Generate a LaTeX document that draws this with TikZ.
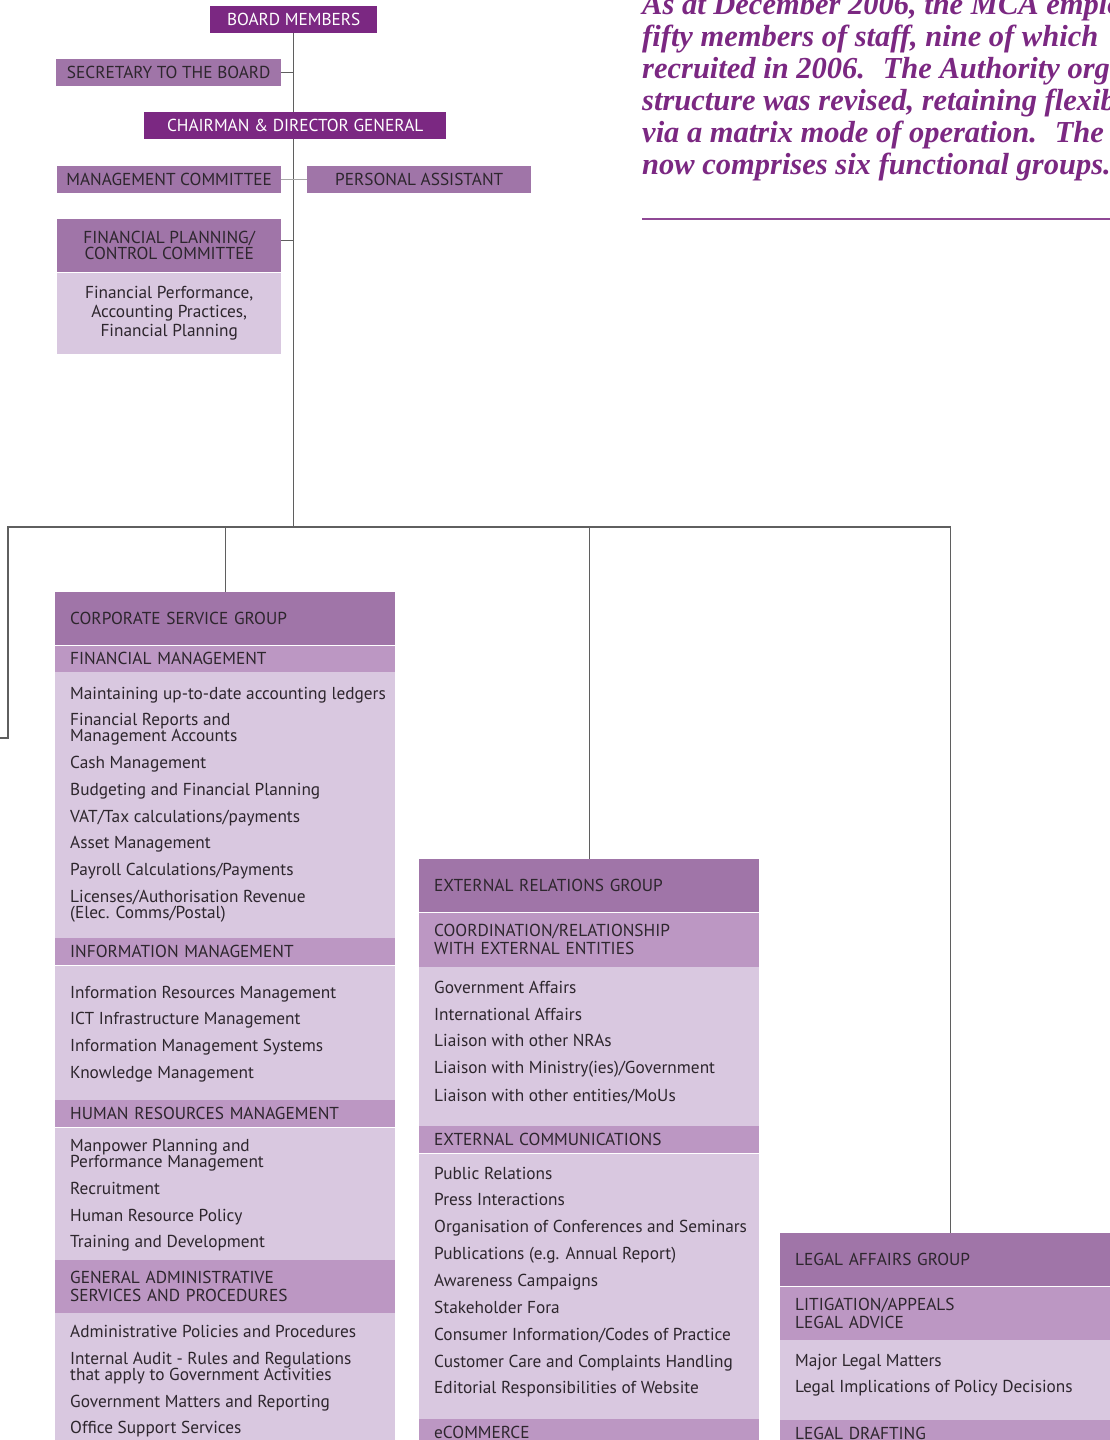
\documentclass[tikz,border=0pt]{standalone}
\usepackage{fontspec}
\newfontfamily\orgfont{PT Sans}
\newfontfamily\notefont{Liberation Serif}
\usetikzlibrary{backgrounds}

\definecolor{mcadark}{RGB}{123,40,130}
\definecolor{mcamid}{RGB}{160,117,168}
\definecolor{mcasub}{RGB}{188,151,195}
\definecolor{mcalight}{RGB}{217,200,224}
\definecolor{mcatext}{RGB}{45,38,45}
\definecolor{mcaline}{RGB}{95,95,95}

\newcommand{\itemlist}[3]{\parbox[t][#1][t]{340pt}{\raggedright\leftskip=15pt\vspace*{#2}#3}}

\begin{document}
\begin{tikzpicture}[x=1pt, y=-1pt, font=\orgfont\fontsize{17.3}{16}\selectfont,
    darkbox/.style={fill=mcadark, text=white, inner sep=0pt, minimum height=27pt, anchor=north west},
    midbox/.style={fill=mcamid, text=mcatext, inner sep=0pt, minimum height=27pt, anchor=north west},
    grouphead/.style={fill=mcamid, text=mcatext, anchor=north west, inner xsep=15pt, inner ysep=0pt,
        text width=310pt, align=left, minimum height=53pt, font=\orgfont\fontsize{17.3}{18}\selectfont},
    subhead/.style={grouphead, fill=mcasub, minimum height=27pt},
    listbody/.style={fill=mcalight, text=mcatext, anchor=north west, inner sep=0pt},
    conn/.style={draw=mcaline, line width=1.2pt}]
    \useasboundingbox (0,0) rectangle (1110,1440);
    \clip (0,0) rectangle (1110,1440);

    % Board and direction
    \node[darkbox, minimum width=167pt] (board) at (210,6) {BOARD MEMBERS};
    \node[midbox, minimum width=225pt] (sec) at (56,59) {SECRETARY TO THE BOARD};
    \node[darkbox, minimum width=302pt] (chair) at (144,112) {CHAIRMAN \& DIRECTOR GENERAL};
    \node[midbox, minimum width=224pt] (mgmt) at (57,166) {MANAGEMENT COMMITTEE};
    \node[midbox, minimum width=224pt] (pa) at (307,166) {PERSONAL ASSISTANT};
    \node[midbox, minimum width=224pt, minimum height=53pt, align=center] (fpc) at (57,219) {FINANCIAL PLANNING/\\CONTROL COMMITTEE};
    \node[midbox, fill=mcalight, minimum width=224pt, minimum height=81pt, align=center,
        font=\orgfont\fontsize{17.3}{19}\selectfont] (fpcbody) at (fpc.south west) {Financial Performance,\\Accounting Practices,\\Financial Planning};

    % Note on staff
    \node[anchor=north west, inner sep=0pt, align=left, text=mcadark,
        font=\notefont\bfseries\itshape\fontsize{30.5}{32}\selectfont] (note) at (642,-7)
        {As at December 2006, the MCA employed\\
         fifty members of staff, nine of which\\
         recruited in 2006. \ The Authority organisational\\
         structure was revised, retaining flexibility\\
         via a matrix mode of operation. \ The\\
         now comprises six functional groups.};
    \draw[mcadark!85, line width=1.2pt] (642,219) -- (1110,219);

    % Corporate service group
    \node[grouphead] (csg) at (55,592) {CORPORATE SERVICE GROUP};
    \node[subhead, minimum height=26pt] (fm) at (csg.south west) {FINANCIAL MANAGEMENT};
    \node[listbody] (fmlist) at (fm.south west) {\itemlist{266pt}{15pt}{%
        Maintaining up-to-date accounting ledgers\\[10.7pt]
        Financial Reports and\\Management Accounts\\[10.7pt]
        Cash Management\\[10.7pt]
        Budgeting and Financial Planning\\[10.7pt]
        VAT/Tax calculations/payments\\[10.7pt]
        Asset Management\\[10.7pt]
        Payroll Calculations/Payments\\[10.7pt]
        Licenses/Authorisation Revenue\\(Elec. Comms/Postal)}};
    \node[subhead] (im) at (fmlist.south west) {INFORMATION MANAGEMENT};
    \node[listbody] (imlist) at (im.south west) {\itemlist{134pt}{20pt}{%
        Information Resources Management\\[10.7pt]
        ICT Infrastructure Management\\[10.7pt]
        Information Management Systems\\[10.7pt]
        Knowledge Management}};
    \node[subhead] (hr) at (imlist.south west) {HUMAN RESOURCES MANAGEMENT};
    \node[listbody] (hrlist) at (hr.south west) {\itemlist{132pt}{12pt}{%
        Manpower Planning and\\Performance Management\\[10.7pt]
        Recruitment\\[10.7pt]
        Human Resource Policy\\[10.7pt]
        Training and Development}};
    \node[subhead, minimum height=53pt] (ga) at (hrlist.south west) {GENERAL ADMINISTRATIVE\\SERVICES AND PROCEDURES};
    \node[listbody] (galist) at (ga.south west) {\itemlist{140pt}{12pt}{%
        Administrative Policies and Procedures\\[10.7pt]
        Internal Audit - Rules and Regulations\\that apply to Government Activities\\[10.7pt]
        Government Matters and Reporting\\[10.7pt]
        Office Support Services}};

    % External relations group
    \node[grouphead] (erg) at (419,859) {EXTERNAL RELATIONS GROUP};
    \node[subhead, minimum height=54pt] (co) at (erg.south west) {COORDINATION/RELATIONSHIP\\WITH EXTERNAL ENTITIES};
    \node[listbody] (colist) at (co.south west) {\itemlist{159pt}{14pt}{%
        Government Affairs\\[10.7pt]
        International Affairs\\[10.7pt]
        Liaison with other NRAs\\[10.7pt]
        Liaison with Ministry(ies)/Government\\[10.7pt]
        Liaison with other entities/MoUs}};
    \node[subhead] (ec) at (colist.south west) {EXTERNAL COMMUNICATIONS};
    \node[listbody] (eclist) at (ec.south west) {\itemlist{265pt}{13pt}{%
        Public Relations\\[10.7pt]
        Press Interactions\\[10.7pt]
        Organisation of Conferences and Seminars\\[10.7pt]
        Publications (e.g. Annual Report)\\[10.7pt]
        Awareness Campaigns\\[10.7pt]
        Stakeholder Fora\\[10.7pt]
        Consumer Information/Codes of Practice\\[10.7pt]
        Customer Care and Complaints Handling\\[10.7pt]
        Editorial Responsibilities of Website}};
    \node[subhead] (eco) at (eclist.south west) {eCOMMERCE};

    % Legal affairs group
    \node[grouphead] (lag) at (780,1233) {LEGAL AFFAIRS GROUP};
    \node[subhead, minimum height=53pt] (lit) at (lag.south west) {LITIGATION/APPEALS\\LEGAL ADVICE};
    \node[listbody] (litlist) at (lit.south west) {\itemlist{80pt}{14pt}{%
        Major Legal Matters\\[10.7pt]
        Legal Implications of Policy Decisions}};
    \node[subhead] (ld) at (litlist.south west) {LEGAL DRAFTING};

    % Connectors
    \begin{scope}[on background layer]
        \coordinate (hubl) at (8,527);
        \coordinate (offl) at (-5,738);
        \draw[conn] (board.south) -- (board.south |- hubl);
        \draw[conn] (sec.east) -- (sec.east -| board.south);
        \draw[conn] ([yshift=5.5pt]fpc.east) -- ([yshift=5.5pt]fpc.east -| board.south);
        \draw[conn, draw=mcaline!55] (mgmt.east) -- (pa.west);
        \draw[conn] (offl) -| (hubl) -| (lag.north);
        \draw[conn] (csg.north) -- (csg.north |- hubl);
        \draw[conn] (erg.north) -- (erg.north |- hubl);
    \end{scope}
\end{tikzpicture}
\end{document}
